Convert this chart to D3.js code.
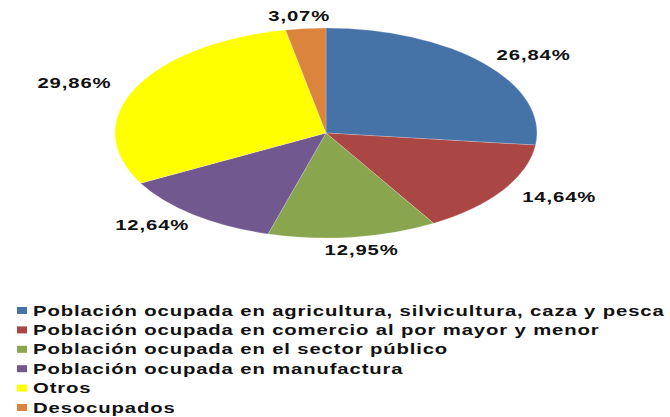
<!DOCTYPE html>
<html>
<head>
<meta charset="utf-8">
<script src="https://cdn.jsdelivr.net/npm/d3@7"></script>
<style>
    body { margin: 0; background: #fff; }
    text { font-family: "Liberation Sans", Arial, sans-serif; font-weight: bold; fill: #111; }
</style>
</head>
<body>
<div id="chart"></div>
<script>
// data
var categories = [
    "Población ocupada en agricultura, silvicultura, caza y pesca",
    "Población ocupada en comercio al por mayor y menor",
    "Población ocupada en el sector público",
    "Población ocupada en manufactura",
    "Otros",
    "Desocupados"
];
var shares = [26.84, 14.64, 12.95, 12.64, 29.86, 3.07];
var labels = ["26,84%", "14,64%", "12,95%", "12,64%", "29,86%", "3,07%"];
var colors = ["#4572A7", "#AA4643", "#89A54E", "#71588F", "#FFFF00", "#DB843D"];

var width = 670, height = 417;
var cx = 326, cy = 133, rx = 211, ry = 105;
var stretch = 1.45; // the picture is stretched sideways

var svg = d3.select("#chart")
    .append("svg")
    .attr("width", width)
    .attr("height", height);

var pie = d3.pie().sort(null).value(function (d) { return d; });
var arcs = pie(shares);

// draw the pie as a circle and squash it into an ellipse
var arc = d3.arc().innerRadius(0).outerRadius(rx);
svg.append("g")
    .attr("transform", "translate(" + cx + "," + cy + ") scale(1," + (ry / rx) + ")")
    .selectAll("path")
    .data(arcs)
    .enter()
    .append("path")
    .attr("d", arc)
    .attr("fill", function (d, i) { return colors[i]; })
    .attr("stroke", "rgba(255,255,255,0.35)")
    .attr("stroke-width", 0.8);

// percentage labels outside the edge
var lrx = 278, lry = 118;
svg.selectAll(".pct")
    .data(arcs)
    .enter()
    .append("text")
    .attr("class", "pct")
    .attr("transform", function (d) {
        var a = (d.startAngle + d.endAngle) / 2;
        var x = cx + lrx * Math.sin(a);
        var y = cy - lry * Math.cos(a) + 5;
        return "translate(" + x + "," + y + ") scale(" + stretch + ",1)";
    })
    .attr("text-anchor", "middle")
    .style("font-size", "14px")
    .style("letter-spacing", "0.6px")
    .text(function (d, i) { return labels[i]; });

// legend
var legendTop = 310.5, rowH = 19.4;
var legend = svg.selectAll(".legend")
    .data(categories)
    .enter()
    .append("g")
    .attr("class", "legend")
    .attr("transform", function (d, i) {
        return "translate(0," + (legendTop + i * rowH) + ")";
    });

legend.append("rect")
    .attr("x", 17)
    .attr("y", -3.5)
    .attr("width", 10)
    .attr("height", 7)
    .attr("fill", function (d, i) { return colors[i]; });

legend.append("text")
    .attr("transform", "translate(33,5) scale(" + stretch + ",1)")
    .style("font-size", "14px")
    .style("letter-spacing", "0.6px")
    .text(function (d) { return d; });
</script>
</body>
</html>
